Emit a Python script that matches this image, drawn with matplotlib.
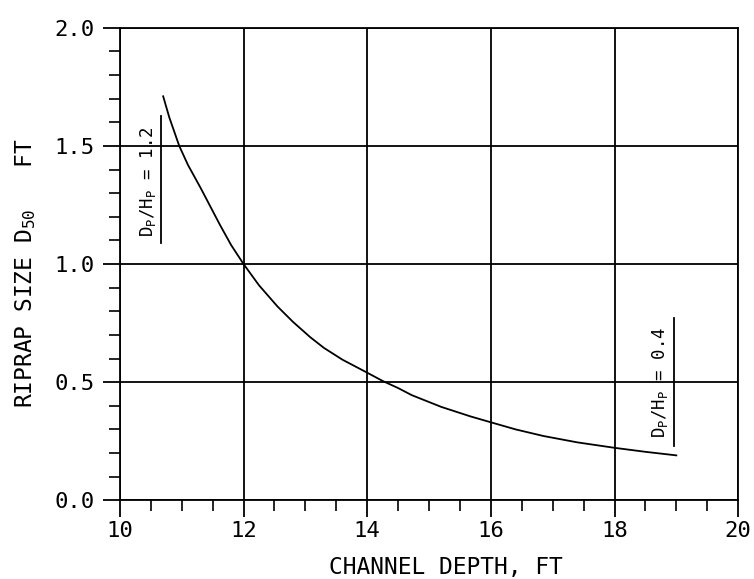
import matplotlib
matplotlib.use('Agg')
import matplotlib.pyplot as plt
from matplotlib.ticker import MultipleLocator

# curve D_P/H_P from 1.2 (top left) down to 0.4 (lower right)
depth = [10.7, 10.8, 10.96, 11.1, 11.31, 11.5, 11.62, 11.8, 12.0, 12.25, 12.55,
         12.8, 13.08, 13.3, 13.6, 14.0, 14.25, 14.5, 14.72, 15.2, 15.67, 16.0,
         16.4, 16.85, 17.4, 18.0, 18.5, 19.0]
d50 = [1.71, 1.62, 1.50, 1.42, 1.32, 1.225, 1.165, 1.08, 1.00, 0.91, 0.82,
       0.755, 0.69, 0.645, 0.595, 0.54, 0.505, 0.475, 0.445, 0.395, 0.355, 0.33,
       0.30, 0.272, 0.245, 0.222, 0.205, 0.19]

# rotated labels at the two ends of the curve and their underline
label_text = [r'$D_P/H_P$ = 1.2', r'$D_P/H_P$ = 0.4']
label_x = [10.46, 18.74]
label_y = [1.35, 0.50]
uline_x = [10.66, 18.97]
uline_y0 = [1.09, 0.23]
uline_y1 = [1.625, 0.77]

plt.rcParams['font.family'] = ['DejaVu Sans Mono']
plt.rcParams['mathtext.default'] = 'regular'

fig = plt.figure(figsize=(7.54, 5.79), dpi=100)
ax = fig.add_axes([0.159, 0.136, 0.82, 0.816])

ax.plot(depth, d50, color='black', lw=1.3)

for t, x, y, ux, y0, y1 in zip(label_text, label_x, label_y, uline_x, uline_y0, uline_y1):
    ax.text(x, y, t, rotation=90, ha='center', va='center', fontsize=12.5)
    ax.plot([ux, ux], [y0, y1], color='black', lw=1.3)

ax.set_xlim(10, 20)
ax.set_ylim(0, 2.0)
ax.xaxis.set_major_locator(MultipleLocator(2))
ax.xaxis.set_minor_locator(MultipleLocator(0.5))
ax.yaxis.set_major_locator(MultipleLocator(0.5))
ax.yaxis.set_minor_locator(MultipleLocator(0.1))
ax.yaxis.set_major_formatter(plt.FuncFormatter(lambda v, p: f'{v:.1f}'))

ax.tick_params(which='major', direction='out', length=12, width=1.3,
               labelsize=16, pad=6, color='black')
ax.tick_params(axis='x', which='major', pad=3)
ax.tick_params(which='minor', direction='out', length=8, width=1.2, color='black')
ax.grid(which='major', color='black', lw=1.3)

for s in ax.spines.values():
    s.set_linewidth(1.3)

ax.set_xlabel('CHANNEL DEPTH, FT', fontsize=16.5)
ax.set_ylabel(r'RIPRAP SIZE $D_{50}$   FT', fontsize=16.5)
ax.xaxis.set_label_coords(0.527, -0.118)
ax.yaxis.set_label_coords(-0.133, 0.48)

plt.savefig('out.png', dpi=100)
